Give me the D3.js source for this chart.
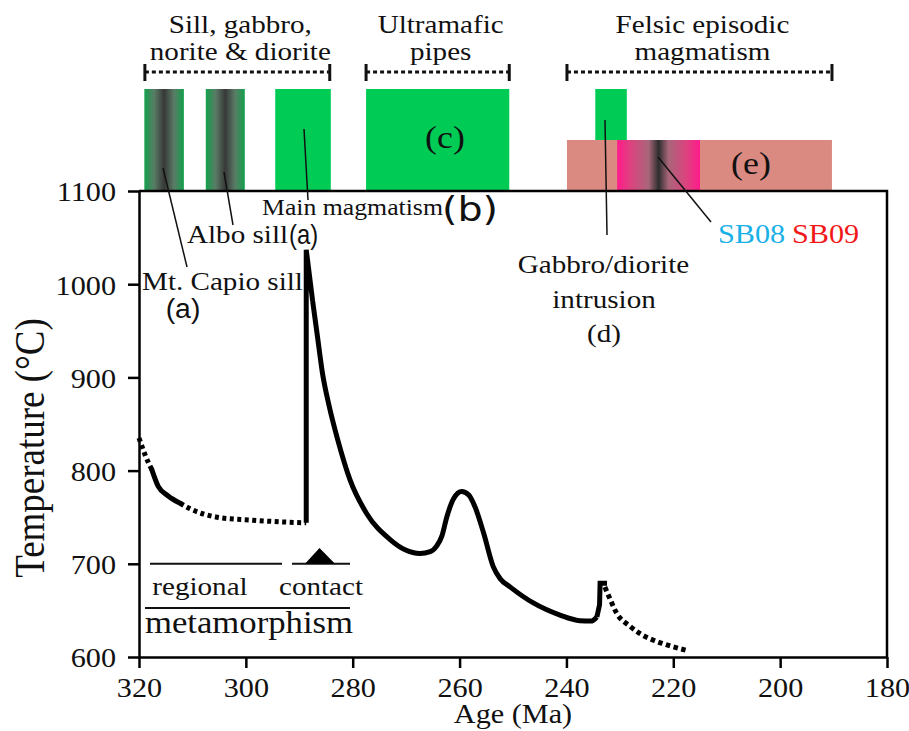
<!DOCTYPE html>
<html>
<head>
<meta charset="utf-8">
<script src="https://cdn.jsdelivr.net/npm/d3@7"></script>
<style>
body{margin:0;background:#fff;}
svg text{font-family:"Liberation Serif","Times New Roman",serif;fill:#111;}
</style>
</head>
<body>
<div id="chart"></div>
<script>
const w = 909, h = 731;
const SX = 1.12; // the source figure is a bit stretched sideways
const serif = "'Liberation Serif', 'Times New Roman', serif";

// axes
const xTicks = [320, 300, 280, 260, 240, 220, 200, 180];
const yTicks = [600, 700, 800, 900, 1000, 1100];

// magmatic events, ages in Ma
const barNames = ["Mt. Capio sill", "Albo sill", "Main magmatism", "Ultramafic pipes",
                  "Gabbro/diorite intrusion", "Felsic episodic magmatism", "SB08 SB09"];
const barStart = [319.0, 307.5, 294.5, 277.5, 234.6, 239.9, 230.5];
const barEnd   = [311.6, 300.2, 284.1, 250.7, 228.7, 190.3, 215.0];

const groupNames = [["Sill, gabbro,", "norite & diorite"], ["Ultramafic", "pipes"], ["Felsic episodic", "magmatism"]];
const groupStart = [318.9, 277.5, 239.9];
const groupEnd   = [284.3, 250.7, 190.3];

// thermal path [age Ma, T °C]
const dotStart    = [[320, 835], [318.8, 816], [317.6, 801]];
const solidStart  = [[317.6, 801], [316.4, 783], [314.6, 773], [312.3, 765]];
const dotRegional = [[312.3, 765], [310.4, 759], [305.4, 750], [299.2, 747], [293.5, 745], [288.7, 744]];
const spike       = [[288.7, 744], [288.7, 1037], [287.5, 982]];
const cooling = [[287.5, 982], [286.6, 944], [285.7, 906], [284.4, 869], [282.8, 833], [280.5, 790],
                 [277.4, 754], [273.0, 726], [270.2, 715], [267.4, 711], [265.5, 713],
                 [264.3, 719], [263.3, 730], [262.4, 750], [261.1, 770], [259.6, 777.5], [258.3, 774],
                 [257.1, 761], [255.5, 733], [253.7, 697], [252.4, 684], [250.5, 675], [246.2, 658],
                 [241.2, 645], [237.5, 639], [235.4, 638.5], [234.3, 643]];
const reheat  = [[234.3, 643], [233.8, 656], [233.7, 679], [232.4, 679]];
const tailDot = [[232.8, 675], [231.9, 663], [230.6, 647], [228.1, 633], [226.2, 625], [223.7, 618],
                 [221.2, 613], [217.5, 607]];

const svg = d3.select("#chart").append("svg")
  .attr("width", w)
  .attr("height", h);

const x = d3.scaleLinear().domain([320, 180]).range([139, 887]);
const y = d3.scaleLinear().domain([600, 1100]).range([657, 191]);

function label(g, px, py, str, opt) {
  opt = opt || {};
  return g.append("text")
    .attr("transform", "translate(" + px + "," + py + ") scale(" + (opt.sx || SX) + ",1)")
    .attr("text-anchor", opt.anchor || "middle")
    .attr("font-family", opt.font || serif)
    .style("font-family", opt.font || serif)
    .style("font-size", (opt.size || 25) + "px")
    .style("fill", opt.color || "#111")
    .text(str);
}

// gradients
const defs = svg.append("defs");
function grad(id, stops) {
  const g = defs.append("linearGradient").attr("id", id);
  stops.forEach(s => g.append("stop").attr("offset", s[0]).attr("stop-color", s[1]));
}
grad("sillGrad", [[0, "#12a04c"], [0.25, "#5a7c66"], [0.5, "#383838"], [0.75, "#5a7c66"], [1, "#12a04c"]]);
grad("sbGrad", [[0, "#ff1a8c"], [0.15, "#e0407f"], [0.38, "#a8667a"], [0.5, "#2e2e2e"], [0.62, "#a8667a"], [0.85, "#e0407f"], [1, "#ff1a8c"]]);

// bar rows above the plot
const rowTop = 89, rowMid = 140, rowBot = 191;
const green = "#00cc55", salmon = "#db8a82";
const barStyle = {
  "Mt. Capio sill": ["url(#sillGrad)", rowTop, rowBot],
  "Albo sill": ["url(#sillGrad)", rowTop, rowBot],
  "Main magmatism": [green, rowTop, rowBot],
  "Ultramafic pipes": [green, rowTop, rowBot],
  "Gabbro/diorite intrusion": [green, rowTop, rowMid],
  "Felsic episodic magmatism": [salmon, rowMid, rowBot],
  "SB08 SB09": ["url(#sbGrad)", rowMid, rowBot]
};

svg.append("g").attr("class", "bars")
  .selectAll("rect")
  .data(barNames)
  .enter()
  .append("rect")
  .attr("x", (d, i) => x(barStart[i]))
  .attr("width", (d, i) => x(barEnd[i]) - x(barStart[i]))
  .attr("y", d => barStyle[d][1])
  .attr("height", d => barStyle[d][2] - barStyle[d][1])
  .attr("fill", d => barStyle[d][0]);

// group brackets
const brY = 72;
const brackets = svg.append("g").attr("stroke", "#111");
groupNames.forEach((names, i) => {
  const a = x(groupStart[i]), b = x(groupEnd[i]);
  brackets.append("line").attr("x1", a).attr("x2", b).attr("y1", brY).attr("y2", brY)
    .attr("stroke-width", 3).attr("stroke-dasharray", "4,3");
  [a, b].forEach(p => brackets.append("line").attr("x1", p).attr("x2", p)
    .attr("y1", brY - 8).attr("y2", brY + 9).attr("stroke-width", 3));
  label(svg, (a + b) / 2 + 3, 33, names[0], {size: 26});
  label(svg, (a + b) / 2 + 3, 60, names[1], {size: 26});
});

label(svg, 445, 148, "(c)", {size: 32});
label(svg, 751, 174, "(e)", {size: 32});

// axes
const xAxis = d3.axisBottom(x).tickValues(xTicks).tickFormat(d3.format("d"))
  .tickSize(11).tickSizeOuter(0).tickPadding(10);
const yAxis = d3.axisLeft(y).tickValues(yTicks).tickFormat(d3.format("d"))
  .tickSize(11).tickSizeOuter(0).tickPadding(9.5);

const gx = svg.append("g").attr("transform", "translate(0," + y(600) + ")").call(xAxis);
const gy = svg.append("g").attr("transform", "translate(" + x(320) + ",0)").call(yAxis);
[gx, gy].forEach(g => {
  g.attr("font-family", serif).attr("font-size", 27);
  g.select(".domain").attr("stroke", "#000").attr("stroke-width", 2.5);
  g.selectAll(".tick line").attr("stroke", "#000").attr("stroke-width", 2.5);
  g.selectAll(".tick text")
    .attr("fill", "#111")
    .style("font-family", serif)
    .style("font-size", "27px")
    .attr("transform", "scale(" + SX + ",1)");
});
gy.selectAll(".tick text").attr("dy", "0.37em");

// frame top and right
svg.append("path")
  .attr("d", "M" + x(320) + "," + y(1100) + "H" + x(180) + "V" + y(600))
  .attr("fill", "none").attr("stroke", "#000").attr("stroke-width", 2.5);

label(svg, (x(320) + x(180)) / 2, 723, "Age (Ma)", {size: 27});
svg.append("text")
  .attr("transform", "translate(44,448) rotate(-90) scale(1," + SX + ")")
  .attr("text-anchor", "middle")
  .style("font-family", serif)
  .style("font-size", "37px")
  .text("Temperature (°C)");

// thermal path
const smooth = d3.line().x(d => x(d[0])).y(d => y(d[1])).curve(d3.curveMonotoneX);
const straight = d3.line().x(d => x(d[0])).y(d => y(d[1]));
const pathG = svg.append("g").attr("fill", "none").attr("stroke", "#000").attr("stroke-width", 5);

pathG.append("path").attr("d", smooth(dotStart)).attr("stroke-dasharray", "4,3.5");
pathG.append("path").attr("d", smooth(solidStart)).attr("stroke-linecap", "round");
pathG.append("path").attr("d", smooth(dotRegional)).attr("stroke-dasharray", "4,3.5");
pathG.append("path").attr("d", straight(spike)).attr("stroke-linejoin", "miter").attr("stroke-miterlimit", 6);
pathG.append("path").attr("d", smooth(cooling)).attr("stroke-linejoin", "round");
pathG.append("path").attr("d", straight(reheat));
pathG.append("path").attr("d", smooth(tailDot)).attr("stroke-dasharray", "4.5,3.5");

// leader lines
const leaders = [[[163, 168], [187, 267]], [[224, 172], [233, 225]], [[304, 129], [308, 200]],
                 [[605, 120], [607, 235]], [[658, 157], [711, 222]]];
svg.append("g").selectAll("line")
  .data(leaders)
  .enter()
  .append("line")
  .attr("x1", d => d[0][0]).attr("y1", d => d[0][1])
  .attr("x2", d => d[1][0]).attr("y2", d => d[1][1])
  .attr("stroke", "#111").attr("stroke-width", 1.5);

// annotations
label(svg, 262, 215, "Main magmatism", {size: 23, anchor: "start"});
label(svg, 442, 221, "(b)", {size: 33, anchor: "start", font: "'DejaVu Sans', sans-serif", sx: 1.2});
label(svg, 187, 243, "Albo sill", {size: 26, anchor: "start"});
label(svg, 289, 244, "(a)", {size: 28, anchor: "start", font: "'Liberation Sans', sans-serif", sx: 0.85});
label(svg, 142, 290, "Mt. Capio sill", {size: 26, anchor: "start"});
label(svg, 183, 318, "(a)", {size: 27, font: "'Liberation Sans', sans-serif", sx: 1.05});
label(svg, 603.5, 273, "Gabbro/diorite", {size: 26});
label(svg, 604, 308, "intrusion", {size: 26});
label(svg, 604, 342, "(d)", {size: 26});
label(svg, 718, 243, "SB08", {size: 27, anchor: "start", color: "#1ab0e8"});
label(svg, 792, 243, "SB09", {size: 27, anchor: "start", color: "#f21818"});

// metamorphism key
const meta = svg.append("g").attr("stroke", "#111").attr("stroke-width", 2);
meta.append("line").attr("x1", 150).attr("x2", 282).attr("y1", y(700)).attr("y2", y(700));
meta.append("line").attr("x1", 292).attr("x2", 350).attr("y1", y(700)).attr("y2", y(700));
meta.append("line").attr("x1", 145).attr("x2", 350).attr("y1", 608).attr("y2", 608);
svg.append("path")
  .attr("d", "M305," + y(700) + "L319.5,548L335," + y(700) + "Z")
  .attr("fill", "#000");
label(svg, 200, 595, "regional", {size: 26});
label(svg, 321, 595, "contact", {size: 26});
label(svg, 249, 633, "metamorphism", {size: 31});
</script>
</body>
</html>
